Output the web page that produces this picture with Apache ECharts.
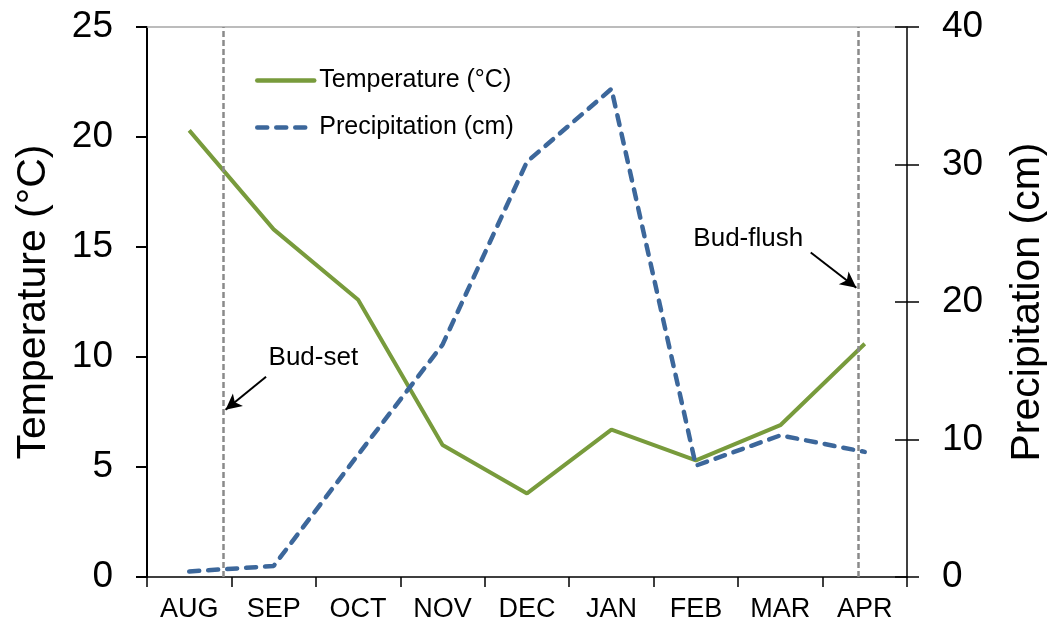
<!DOCTYPE html>
<html>
<head>
<meta charset="utf-8">
<script src="https://cdn.jsdelivr.net/npm/echarts@6/dist/echarts.min.js"></script>
<style>
  html, body { margin: 0; padding: 0; background: #fff; }
  #chart { width: 1051px; height: 626px; }
</style>
</head>
<body>
<div id="chart"></div>
<script>
const months = ["AUG", "SEP", "OCT", "NOV", "DEC", "JAN", "FEB", "MAR", "APR"];
const temperature = [20.3, 15.8, 12.6, 6.0, 3.8, 6.7, 5.3, 6.9, 10.6];
const precipitation = [0.4, 0.8, 8.9, 16.9, 30.2, 35.5, 8.1, 10.3, 9.1];

// event lines, in month-band units (0 = left edge of AUG band)
const budSetX = 0.9;
const budFlushX = 8.42;

// annotation text and arrows, in [band position, temperature] units
const notes = [
  { text: "Bud-set", at: [1.97, 9.95], from: [1.41, 9.1], to: [0.93, 7.6] },
  { text: "Bud-flush", at: [7.12, 15.35], from: [7.86, 14.75], to: [8.4, 13.15] }
];

const font = "Liberation Sans, Arial, sans-serif";
const green = "#789B3C";
const blue = "#3C679B";

const chart = echarts.init(document.getElementById("chart"), null, { renderer: "canvas" });

chart.setOption({
  animation: false,
  textStyle: { fontFamily: font, color: "#000" },
  grid: { left: 147, right: 144, top: 27, bottom: 49, containLabel: false, outerBoundsMode: "none" },
  legend: {
    orient: "vertical",
    left: 250,
    top: 63,
    itemWidth: 57,
    itemHeight: 14,
    itemGap: 22,
    itemStyle: { opacity: 0 },
    lineStyle: { width: 4.5, cap: "round" },
    textStyle: { fontFamily: font, fontSize: 25, color: "#000" },
    data: ["Temperature (°C)", "Precipitation (cm)"]
  },
  xAxis: [
    {
      type: "category",
      data: months,
      boundaryGap: true,
      axisLine: { lineStyle: { color: "#000", width: 1.5 } },
      axisTick: { show: true, length: 10, lineStyle: { color: "#000", width: 1.5 } },
      axisLabel: { fontSize: 27, color: "#000", margin: 19, fontFamily: font },
      splitLine: { show: false }
    },
    {
      type: "value",
      min: 0,
      max: 9,
      position: "top",
      axisLine: { show: true, onZero: false, lineStyle: { color: "#a6a6a6", width: 1.5 } },
      axisTick: { show: false },
      axisLabel: { show: false },
      splitLine: { show: false }
    }
  ],
  yAxis: [
    {
      type: "value",
      min: 0,
      max: 25,
      interval: 5,
      name: "Temperature (°C)",
      nameLocation: "middle",
      nameGap: 93,
      nameTextStyle: { fontSize: 41, fontFamily: font, color: "#000" },
      axisLine: { show: true, lineStyle: { color: "#000", width: 2 } },
      axisTick: { show: true, length: 11, lineStyle: { color: "#000", width: 2 } },
      axisLabel: { fontSize: 37, color: "#000", margin: 34, fontFamily: font },
      splitLine: { show: false }
    },
    {
      type: "value",
      min: 0,
      max: 40,
      interval: 10,
      position: "right",
      name: "Precipitation (cm)",
      nameLocation: "middle",
      nameGap: 100,
      nameTextStyle: { fontSize: 41, fontFamily: font, color: "#000" },
      axisLine: { show: true, lineStyle: { color: "#000", width: 1.5 } },
      axisTick: { show: true, length: 12, lineStyle: { color: "#000", width: 1.5 } },
      axisLabel: { fontSize: 37, color: "#000", margin: 35, fontFamily: font },
      splitLine: { show: false }
    },
    {
      type: "value",
      min: 0,
      max: 40,
      interval: 10,
      position: "right",
      axisLine: { show: false },
      axisTick: { show: true, inside: true, length: 12, lineStyle: { color: "#000", width: 1.5 } },
      axisLabel: { show: false },
      splitLine: { show: false }
    }
  ],
  series: [
    {
      name: "Temperature (°C)",
      type: "line",
      xAxisIndex: 0,
      yAxisIndex: 0,
      data: temperature,
      symbol: "none",
      lineStyle: { color: green, width: 4 },
      itemStyle: { color: green },
      z: 3
    },
    {
      name: "Precipitation (cm)",
      type: "line",
      xAxisIndex: 0,
      yAxisIndex: 1,
      data: precipitation,
      symbol: "none",
      lineStyle: { color: blue, width: 4.5, type: [10, 9], cap: "round" },
      itemStyle: { color: blue },
      z: 3
    },
    {
      name: "notes",
      type: "line",
      xAxisIndex: 1,
      yAxisIndex: 0,
      data: [],
      silent: true,
      markLine: {
        silent: true,
        symbol: "none",
        label: { show: false },
        lineStyle: { color: "#8a8a8a", width: 2.5, type: [6, 3] },
        data: [
          { xAxis: budSetX },
          { xAxis: budFlushX },
          ...notes.map((n) => [
            { coord: n.from, symbol: "none", lineStyle: { color: "#000", width: 2, type: "solid" } },
            { coord: n.to, symbol: "arrow", symbolSize: [12, 16] }
          ])
        ]
      },
      markPoint: {
        silent: true,
        symbol: "circle",
        symbolSize: 1,
        itemStyle: { color: "rgba(0,0,0,0)" },
        label: { show: true, position: "inside", fontSize: 26, color: "#000", fontFamily: font },
        data: notes.map((n) => ({ coord: n.at, value: n.text, label: { formatter: n.text } }))
      }
    }
  ]
});
</script>
</body>
</html>
